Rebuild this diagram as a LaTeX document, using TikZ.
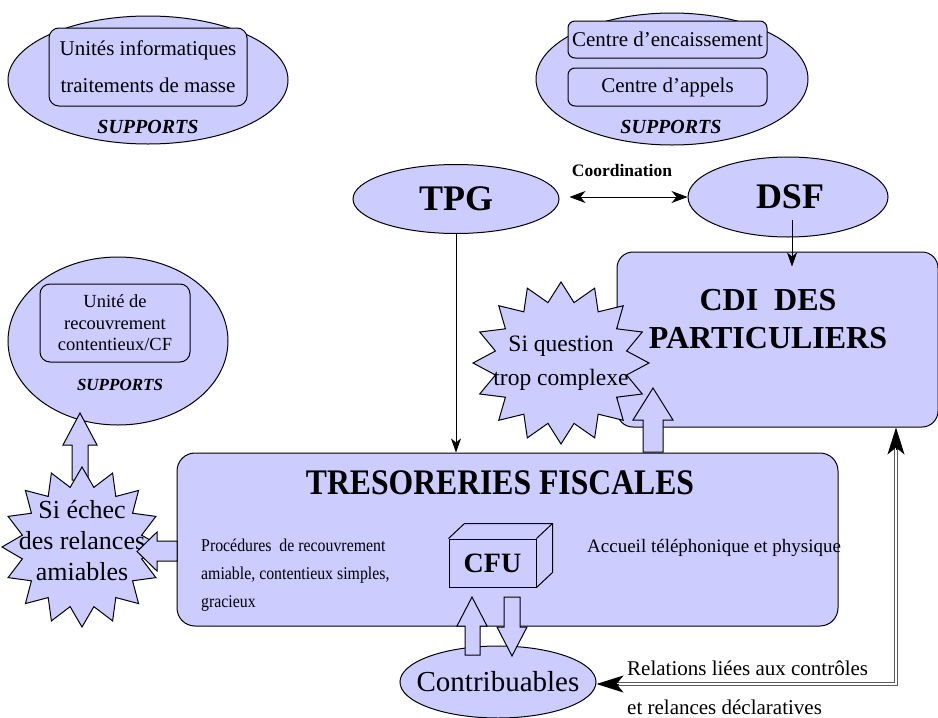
\documentclass[tikz,border=0pt]{standalone}
\usepackage{fontspec}
\setmainfont{Liberation Serif}
\newfontfamily\narrowserif[FakeStretch=0.88]{Liberation Serif}
\usetikzlibrary{arrows.meta,calc,shapes.geometric}
\definecolor{lav}{RGB}{204,204,255}
\definecolor{dblgray}{RGB}{90,90,90}

\newcommand\fs[2]{\fontsize{#1}{#2}\selectfont}

\tikzset{
  boxed/.style={draw, fill=lav, line width=1pt, rounded corners=#1, inner sep=0pt},
  oval/.style={ellipse, draw, fill=lav, line width=1pt, inner sep=0pt},
  blk/.style={draw, fill=lav, line width=1pt, line join=miter},
  burst/.style={draw, fill=lav, line width=1pt, line join=miter},
  arr/.style={-{Stealth[length=14pt,width=10pt,inset=4pt]}, line width=0.8pt},
  bigtip/.style={-{Stealth[length=27pt,width=17pt,inset=7pt]}, line width=0.8pt},
  dbl/.style={draw=dblgray, double=white, double distance=2pt, line width=0.9pt},
  plain/.style={inner sep=0pt, align=center},
  supp/.style={inner sep=0pt, font=\fs{20}{24}\bfseries\itshape},
}

% starburst outline: centre, x radius, y radius, inner ratio
\newcommand\drawburst[4]{%
  \begin{scope}[shift={(#1)}]
    \filldraw[burst] (90:{#2} and {#3})
      \foreach \k [evaluate=\k as \f using {ifthenelse(mod(\k,2)==1,#4,1)}] in {1,...,31}
        { -- ({90+\k*11.25}:{\f*#2} and {\f*#3}) } -- cycle;
  \end{scope}}

\begin{document}
\begin{tikzpicture}[x=1pt,y=-1pt]
\useasboundingbox (0,0) rectangle (938,718);

% ---- support units ----
\node[oval, minimum width=280, minimum height=128] (supA) at (148,80) {};
\node[boxed=10pt, minimum width=198, minimum height=78, font=\fs{21}{37}, align=center] (informatique) at (148,67)
  {Unités informatiques\\traitements de masse};
\node[supp] (suppA) at (148,127) {SUPPORTS};

\node[oval, minimum width=272, minimum height=132] (supB) at (672,79) {};
\node[boxed=7pt, minimum width=199, minimum height=37, font=\fs{21}{25}] (encaissement) at (667.5,39.5) {Centre d’encaissement};
\node[boxed=7pt, minimum width=199, minimum height=38, font=\fs{21}{25}] (appels) at (667.5,87) {Centre d’appels};
\node[supp] (suppB) at (671,127) {SUPPORTS};

\node[oval, minimum width=220, minimum height=168] (supC) at (118,341) {};
\node[boxed=10pt, minimum width=150, minimum height=78, font=\fs{18.5}{21.5}, align=center] (contentieux) at (115,323)
  {Unité de\\recouvrement\\contentieux/CF};
\node[supp, font=\fs{17}{20}\bfseries\itshape] (suppC) at (120,385) {SUPPORTS};

% ---- TPG / DSF ----
\node[oval, minimum width=206, minimum height=69] (tpg) at (456,199) {};
\node[plain, font=\fs{36}{40}\bfseries] (tpgtext) at (tpg.center) {TPG};
\node[oval, minimum width=200, minimum height=80] (dsf) at (788,197) {};
\node[plain, font=\fs{36}{40}\bfseries] (dsftext) at (790,197) {DSF};
\draw[arr, {Stealth[length=16pt,width=12pt,inset=5pt]}-{Stealth[length=16pt,width=12pt,inset=5pt]}, shorten <=10pt]
  (tpg.east |- 0,197) -- (dsf.west);
\node[plain, font=\fs{17.5}{20}\bfseries] (coord) at (622,171) {Coordination};

% ---- CDI ----
\node[boxed=16pt, minimum width=321, minimum height=175] (cdi) at (777.5,339.5) {};
\node[plain, font=\fs{32}{38}\bfseries] (cdititle) at (768,319) {CDI\ \ DES\\PARTICULIERS};
\draw[arr] ([xshift=4pt,yshift=18pt]dsf.south) -- ++(0,47);

% ---- TRESORERIES FISCALES ----
\node[boxed=18pt, minimum width=661, minimum height=173] (treso) at (507.5,539.5) {};
\node[plain, font=\narrowserif\fs{36}{40}\bfseries] (tresotitle) at (500,483) {TRESORERIES FISCALES};
\node[inner sep=0pt, anchor=west, align=left, font=\narrowserif\fs{18}{28}] (procedures) at (201,575)
  {Procédures\ \ de recouvrement\\amiable, contentieux simples,\\gracieux};
\node[inner sep=0pt, anchor=west, font=\fs{19}{22}] (accueil) at (587,548) {Accueil téléphonique et physique};

\draw[arr] (tpg.south) -- (tpg.south |- treso.north);

% CFU block
\node[draw, fill=lav, line width=1pt, minimum width=87, minimum height=48, inner sep=0pt,
      font=\fs{28}{32}\bfseries] (cfu) at (492.5,563) {CFU};
\draw[line width=1pt, line join=miter] (cfu.north west) -- ++(16,-15) -- ($(cfu.north east)+(16,-15)$)
  -- ($(cfu.south east)+(16,-15)$) -- (cfu.south east);
\draw[line width=1pt] (cfu.north east) -- ++(16,-15);

% ---- starburst: question trop complexe ----
\drawburst{561,363}{88}{81}{0.76}
\node[plain, font=\fs{23.5}{34}] (complexe) at (561,363) {Si question\\trop complexe};
\draw[blk] (643,452) -- (643,420) -- (633,420) -- (653,388) -- (673,420) -- (663,420) -- (663,452) -- cycle;

% ---- towards litigation support ----
\draw[blk] (72,480) -- (72,445) -- (63,445) -- (80,413) -- (97,445) -- (88,445) -- (88,480) -- cycle;
\drawburst{82,547}{80}{80}{0.76}
\node[plain, font=\fs{26}{31}] (echec) at (82,541) {Si échec\\des relances\\amiables};
\draw[blk] (177,541) -- (157,541) -- (157,532) -- (137,551.5) -- (157,571) -- (157,561) -- (177,561) -- cycle;

% ---- Contribuables ----
\node[oval, minimum width=196, minimum height=72] (contrib) at (498,682) {};
\node[plain, font=\fs{29}{32}] (contribtext) at (contrib.center) {Contribuables};
\draw[blk] (465,655) -- (465,626) -- (457,626) -- (472,597) -- (487,626) -- (480,626) -- (480,655) -- cycle;
\draw[blk] (504,597) -- (504,627) -- (497,627) -- (512,656) -- (527,627) -- (520,627) -- (520,597) -- cycle;

% relations between CDI and taxpayers
\coordinate (corner) at (896,684);
\draw[dbl] ([yshift=-20pt]cdi.south -| corner) -- (corner) -- ([xshift=20pt]contrib.east |- corner);
\draw[bigtip] ([yshift=-22pt]cdi.south -| corner) -- (cdi.south -| corner);
\draw[bigtip] ([xshift=22pt]contrib.east |- corner) -- (contrib.east |- corner);
\node[inner sep=0pt, anchor=west, align=left, font=\fs{21}{39}] (relations) at (627,688)
  {Relations liées aux contrôles\\et relances déclaratives};
\end{tikzpicture}
\end{document}
